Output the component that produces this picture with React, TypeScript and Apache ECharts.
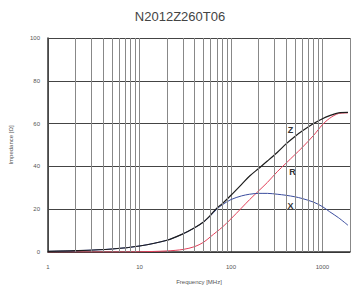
import React, { useEffect, useRef } from "react";
import * as echarts from "echarts";

const title = "N2012Z260T06";
const freqs = [1, 2, 5, 10, 20, 30, 40, 50, 60, 70, 80, 100, 130, 160, 200, 250, 320, 400, 500, 600, 800, 1000, 1200, 1500, 1900];
const zValues = [0.3, 0.6, 1.4, 2.8, 5.5, 8.5, 11.3, 14, 17.3, 20.5, 22.5, 26.5, 31.5, 35.5, 39, 42.5, 46.5, 50.5, 54, 56.5, 60, 62.3, 63.7, 65, 65.2];
const rValues = [0, 0, 0, 0.1, 0.5, 1.2, 2.5, 4.5, 7.2, 9.5, 11.5, 15.5, 20.5, 24.5, 28.5, 32.5, 37.5, 41.5, 45.5, 48.8, 54.5, 59.5, 62.5, 64.7, 65];
const xValues = [0.3, 0.6, 1.4, 2.8, 5.5, 8.5, 11.3, 14, 17, 20, 22, 24.5, 26.2, 27, 27.4, 27.4, 27, 26.5, 25.8, 25, 23.3, 21.2, 18.8, 16, 12.5];
const minorGrid = [2, 3, 4, 5, 6, 7, 8, 9, 20, 30, 40, 50, 60, 70, 80, 90, 200, 300, 400, 500, 600, 700, 800, 900];
const yTicks = [0, 20, 40, 60, 80, 100];
const curveLabels = [
  { name: "Z", f: 447, v: 57 },
  { name: "R", f: 470, v: 37.5 },
  { name: "X", f: 447, v: 21.5 },
];

const pair = (vals: number[]) => freqs.map((f, i) => [f, vals[i]]);

export default function App() {
  const ref = useRef<HTMLDivElement>(null);
  useEffect(() => {
    if (!ref.current) return;
    const chart = echarts.init(ref.current, null, { renderer: "svg" });
    const font = "Liberation Sans, Arial, sans-serif";
    chart.setOption({
      animation: false,
      backgroundColor: "#ffffff",
      title: {
        text: title,
        left: 175,
        textAlign: "center",
        top: 5,
        textStyle: { fontFamily: font, fontSize: 13, fontWeight: "normal", color: "#444" },
      },
      grid: { left: 47, right: 1, top: 38, bottom: 37 },
      xAxis: {
        type: "log",
        logBase: 10,
        min: 1,
        max: 2000,
        name: "Frequency [MHz]",
        nameLocation: "middle",
        nameGap: 27,
        nameTextStyle: { fontFamily: font, fontSize: 6, color: "#555" },
        axisLine: { show: true, lineStyle: { color: "#333", width: 1.5 } },
        axisTick: { show: false },
        axisLabel: {
          fontFamily: font,
          fontSize: 6,
          color: "#555",
          margin: 12,
          showMaxLabel: false,
          formatter: (v: number) => ([1, 10, 100, 1000].includes(Math.round(v)) ? String(Math.round(v)) : ""),
        },
        splitLine: { show: true, lineStyle: { color: "#888", width: 1 } },
      },
      yAxis: {
        type: "value",
        min: 0,
        max: 100,
        interval: 20,
        name: "Impedance [Ω]",
        nameLocation: "middle",
        nameGap: 34,
        nameTextStyle: { fontFamily: font, fontSize: 6, color: "#555" },
        axisLine: { show: true, lineStyle: { color: "#333", width: 1.5 } },
        axisTick: { show: false },
        axisLabel: {
          fontFamily: font,
          fontSize: 6,
          color: "#555",
          margin: 8,
          formatter: (v: number) => (yTicks.includes(v) ? String(v) : ""),
        },
        splitLine: { show: true, lineStyle: { color: "#444", width: 1.2 } },
      },
      series: [
        {
          type: "line",
          data: [],
          silent: true,
          markLine: {
            silent: true,
            symbol: "none",
            label: { show: false },
            lineStyle: { color: "#888", width: 1, type: "solid" },
            data: minorGrid.map((f) => ({ xAxis: f })),
          },
        },
        {
          name: "R",
          type: "line",
          data: pair(rValues),
          smooth: 0.3,
          showSymbol: false,
          lineStyle: { color: "#e2405a", width: 1 },
        },
        {
          name: "X",
          type: "line",
          data: pair(xValues),
          smooth: 0.3,
          showSymbol: false,
          lineStyle: { color: "#3b4d9e", width: 1 },
        },
        {
          name: "Z",
          type: "line",
          data: pair(zValues),
          smooth: 0.3,
          showSymbol: false,
          lineStyle: { color: "#1e1e1e", width: 1.2 },
          markPoint: {
            symbol: "circle",
            symbolSize: 0,
            silent: true,
            label: {
              show: true,
              position: "inside",
              fontFamily: font,
              fontSize: 9,
              fontWeight: "bold",
              color: "#333",
              formatter: (p: any) => p.name,
            },
            data: curveLabels.map((c) => ({ name: c.name, coord: [c.f, c.v] })),
          },
        },
      ],
    });
    return () => chart.dispose();
  }, []);
  return <div ref={ref} style={{ position: "fixed", left: 0, top: 0, width: 351, height: 290 }} />;
}
